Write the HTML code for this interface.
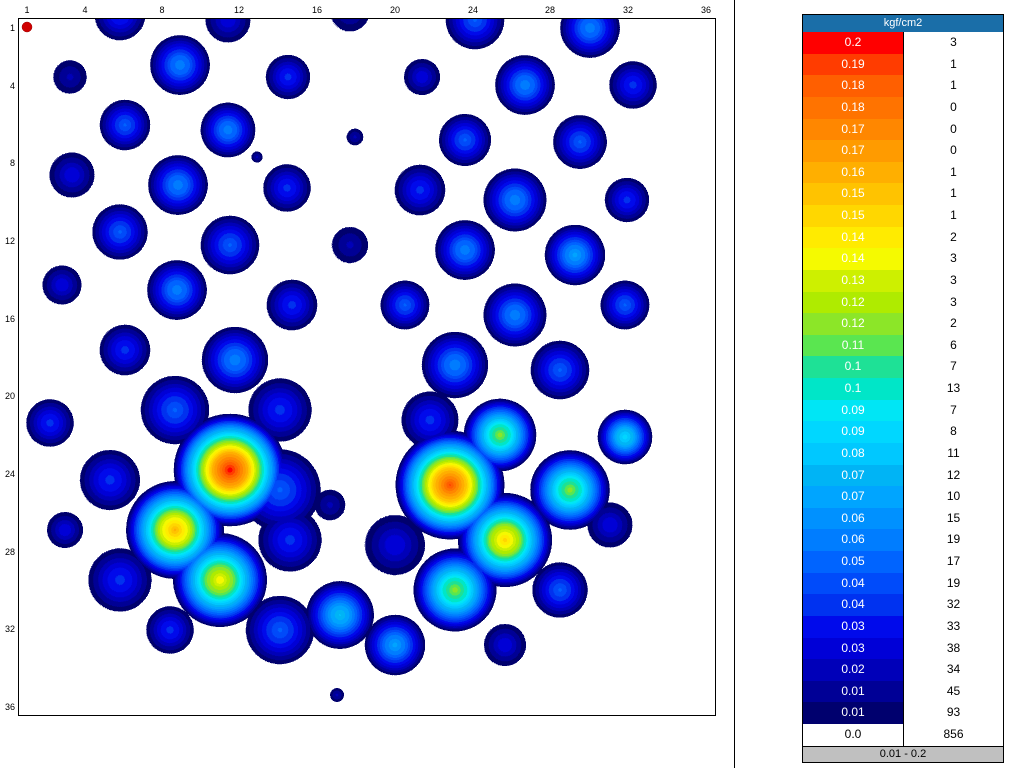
<!DOCTYPE html>
<html><head><meta charset="utf-8"><style>
body{margin:0;width:1024px;height:768px;background:#fff;overflow:hidden;font-family:"Liberation Sans",sans-serif;position:relative}
#leg{position:absolute;left:802px;top:14px;width:202px;border:1px solid #000;box-sizing:border-box}
.r{display:flex;height:21.64px;line-height:21.64px;font-size:12px;text-align:center}
.r div:first-child{width:100px;color:#fff}
.r div:last-child{flex:1;background:#fff;color:#000;border-left:1px solid #000}
</style></head><body>
<div style="position:absolute;left:734px;top:0;width:1px;height:768px;background:#000"></div>
<svg width="1024" height="768" style="position:absolute;left:0;top:0">
<defs>
<filter id="cm" color-interpolation-filters="sRGB" x="0" y="0" width="1" height="1">
<feComponentTransfer>
<feFuncR type="discrete" tableValues="1 0 0 0 0 0 0 0 0 0 0 0 0 0 0 0 0 0.118 0.353 0.549 0.686 0.804 0.961 1 1 1 1 1 1 1 1 1 1"/>
<feFuncG type="discrete" tableValues="1 0 0 0 0 0.039 0.196 0.294 0.392 0.49 0.569 0.647 0.706 0.784 0.843 0.902 0.902 0.882 0.902 0.902 0.922 0.941 0.98 0.922 0.843 0.765 0.686 0.608 0.529 0.451 0.373 0.235 0"/>
<feFuncB type="discrete" tableValues="1 0.431 0.588 0.725 0.843 0.922 0.941 0.98 1 1 1 1 0.961 1 1 0.961 0.784 0.588 0.314 0.157 0 0 0 0 0 0 0 0 0 0 0 0 0"/>
</feComponentTransfer>
</filter>
<radialGradient id="g1"><stop offset="0" stop-color="rgb(13,13,13)"/><stop offset=".27" stop-color="rgb(10,10,10)"/><stop offset=".68" stop-color="rgb(4,4,4)"/><stop offset=".9" stop-color="#000"/></radialGradient>
<radialGradient id="g2"><stop offset="0" stop-color="rgb(26,26,26)"/><stop offset=".27" stop-color="rgb(21,21,21)"/><stop offset=".68" stop-color="rgb(8,8,8)"/><stop offset=".9" stop-color="#000"/></radialGradient>
<radialGradient id="g3"><stop offset="0" stop-color="rgb(38,38,38)"/><stop offset=".27" stop-color="rgb(30,30,30)"/><stop offset=".68" stop-color="rgb(11,11,11)"/><stop offset=".9" stop-color="#000"/></radialGradient>
<radialGradient id="g4"><stop offset="0" stop-color="rgb(51,51,51)"/><stop offset=".27" stop-color="rgb(41,41,41)"/><stop offset=".68" stop-color="rgb(15,15,15)"/><stop offset=".9" stop-color="#000"/></radialGradient>
<radialGradient id="g5"><stop offset="0" stop-color="rgb(64,64,64)"/><stop offset=".27" stop-color="rgb(51,51,51)"/><stop offset=".68" stop-color="rgb(19,19,19)"/><stop offset=".9" stop-color="#000"/></radialGradient>
<radialGradient id="g6"><stop offset="0" stop-color="rgb(77,77,77)"/><stop offset=".27" stop-color="rgb(62,62,62)"/><stop offset=".68" stop-color="rgb(23,23,23)"/><stop offset=".9" stop-color="#000"/></radialGradient>
<radialGradient id="g7"><stop offset="0" stop-color="rgb(89,89,89)"/><stop offset=".27" stop-color="rgb(71,71,71)"/><stop offset=".68" stop-color="rgb(27,27,27)"/><stop offset=".9" stop-color="#000"/></radialGradient>
<radialGradient id="g8"><stop offset="0" stop-color="rgb(102,102,102)"/><stop offset=".27" stop-color="rgb(82,82,82)"/><stop offset=".68" stop-color="rgb(31,31,31)"/><stop offset=".9" stop-color="#000"/></radialGradient>
<radialGradient id="g9"><stop offset="0" stop-color="rgb(115,115,115)"/><stop offset=".27" stop-color="rgb(92,92,92)"/><stop offset=".68" stop-color="rgb(35,35,35)"/><stop offset=".9" stop-color="#000"/></radialGradient>
<radialGradient id="g12"><stop offset="0" stop-color="rgb(153,153,153)"/><stop offset=".27" stop-color="rgb(122,122,122)"/><stop offset=".68" stop-color="rgb(46,46,46)"/><stop offset=".9" stop-color="#000"/></radialGradient>
<radialGradient id="g14"><stop offset="0" stop-color="rgb(179,179,179)"/><stop offset=".27" stop-color="rgb(143,143,143)"/><stop offset=".68" stop-color="rgb(54,54,54)"/><stop offset=".9" stop-color="#000"/></radialGradient>
<radialGradient id="g15"><stop offset="0" stop-color="rgb(191,191,191)"/><stop offset=".27" stop-color="rgb(153,153,153)"/><stop offset=".68" stop-color="rgb(57,57,57)"/><stop offset=".9" stop-color="#000"/></radialGradient>
<radialGradient id="g16"><stop offset="0" stop-color="rgb(204,204,204)"/><stop offset=".27" stop-color="rgb(163,163,163)"/><stop offset=".68" stop-color="rgb(61,61,61)"/><stop offset=".9" stop-color="#000"/></radialGradient>
<radialGradient id="g19"><stop offset="0" stop-color="rgb(242,242,242)"/><stop offset=".27" stop-color="rgb(194,194,194)"/><stop offset=".68" stop-color="rgb(73,73,73)"/><stop offset=".9" stop-color="#000"/></radialGradient>
<radialGradient id="g20"><stop offset="0" stop-color="rgb(255,255,255)"/><stop offset=".27" stop-color="rgb(204,204,204)"/><stop offset=".68" stop-color="rgb(77,77,77)"/><stop offset=".9" stop-color="#000"/></radialGradient>
<clipPath id="pc"><rect x="19" y="19" width="696" height="696"/></clipPath>
</defs>
<g clip-path="url(#pc)">
<g filter="url(#cm)" style="isolation:isolate">
<rect x="19" y="19" width="696" height="696" fill="#000"/>
<g>
<circle cx="120" cy="15" r="32" fill="url(#g4)" style="mix-blend-mode:lighten"/>
<circle cx="228" cy="20" r="30" fill="url(#g3)" style="mix-blend-mode:lighten"/>
<circle cx="350" cy="12" r="28" fill="url(#g2)" style="mix-blend-mode:lighten"/>
<circle cx="475" cy="20" r="36" fill="url(#g5)" style="mix-blend-mode:lighten"/>
<circle cx="590" cy="28" r="36" fill="url(#g6)" style="mix-blend-mode:lighten"/>
<circle cx="70" cy="77" r="24" fill="url(#g2)" style="mix-blend-mode:lighten"/>
<circle cx="180" cy="65" r="36" fill="url(#g6)" style="mix-blend-mode:lighten"/>
<circle cx="288" cy="77" r="28" fill="url(#g4)" style="mix-blend-mode:lighten"/>
<circle cx="422" cy="77" r="24" fill="url(#g3)" style="mix-blend-mode:lighten"/>
<circle cx="525" cy="85" r="36" fill="url(#g6)" style="mix-blend-mode:lighten"/>
<circle cx="633" cy="85" r="30" fill="url(#g4)" style="mix-blend-mode:lighten"/>
<circle cx="125" cy="125" r="31" fill="url(#g5)" style="mix-blend-mode:lighten"/>
<circle cx="228" cy="130" r="33" fill="url(#g6)" style="mix-blend-mode:lighten"/>
<circle cx="355" cy="137" r="12" fill="url(#g2)" style="mix-blend-mode:lighten"/>
<circle cx="465" cy="140" r="32" fill="url(#g5)" style="mix-blend-mode:lighten"/>
<circle cx="580" cy="142" r="33" fill="url(#g5)" style="mix-blend-mode:lighten"/>
<circle cx="72" cy="175" r="30" fill="url(#g3)" style="mix-blend-mode:lighten"/>
<circle cx="178" cy="185" r="36" fill="url(#g6)" style="mix-blend-mode:lighten"/>
<circle cx="287" cy="188" r="30" fill="url(#g4)" style="mix-blend-mode:lighten"/>
<circle cx="420" cy="190" r="32" fill="url(#g4)" style="mix-blend-mode:lighten"/>
<circle cx="515" cy="200" r="38" fill="url(#g6)" style="mix-blend-mode:lighten"/>
<circle cx="627" cy="200" r="28" fill="url(#g4)" style="mix-blend-mode:lighten"/>
<circle cx="120" cy="232" r="34" fill="url(#g5)" style="mix-blend-mode:lighten"/>
<circle cx="230" cy="245" r="36" fill="url(#g5)" style="mix-blend-mode:lighten"/>
<circle cx="350" cy="245" r="26" fill="url(#g2)" style="mix-blend-mode:lighten"/>
<circle cx="465" cy="250" r="36" fill="url(#g6)" style="mix-blend-mode:lighten"/>
<circle cx="575" cy="255" r="36" fill="url(#g7)" style="mix-blend-mode:lighten"/>
<circle cx="62" cy="285" r="26" fill="url(#g3)" style="mix-blend-mode:lighten"/>
<circle cx="177" cy="290" r="36" fill="url(#g6)" style="mix-blend-mode:lighten"/>
<circle cx="292" cy="305" r="32" fill="url(#g4)" style="mix-blend-mode:lighten"/>
<circle cx="405" cy="305" r="30" fill="url(#g5)" style="mix-blend-mode:lighten"/>
<circle cx="515" cy="315" r="38" fill="url(#g6)" style="mix-blend-mode:lighten"/>
<circle cx="625" cy="305" r="30" fill="url(#g5)" style="mix-blend-mode:lighten"/>
<circle cx="125" cy="350" r="32" fill="url(#g4)" style="mix-blend-mode:lighten"/>
<circle cx="235" cy="360" r="40" fill="url(#g6)" style="mix-blend-mode:lighten"/>
<circle cx="455" cy="365" r="40" fill="url(#g6)" style="mix-blend-mode:lighten"/>
<circle cx="560" cy="370" r="36" fill="url(#g5)" style="mix-blend-mode:lighten"/>
<circle cx="50" cy="423" r="30" fill="url(#g4)" style="mix-blend-mode:lighten"/>
<circle cx="175" cy="410" r="42" fill="url(#g5)" style="mix-blend-mode:lighten"/>
<circle cx="280" cy="410" r="40" fill="url(#g4)" style="mix-blend-mode:lighten"/>
<circle cx="430" cy="420" r="36" fill="url(#g4)" style="mix-blend-mode:lighten"/>
<circle cx="500" cy="435" r="42" fill="url(#g12)" style="mix-blend-mode:lighten"/>
<circle cx="625" cy="437" r="32" fill="url(#g9)" style="mix-blend-mode:lighten"/>
<circle cx="230" cy="470" r="64" fill="url(#g20)" style="mix-blend-mode:lighten"/>
<circle cx="450" cy="485" r="62" fill="url(#g19)" style="mix-blend-mode:lighten"/>
<circle cx="110" cy="480" r="38" fill="url(#g4)" style="mix-blend-mode:lighten"/>
<circle cx="175" cy="530" r="56" fill="url(#g16)" style="mix-blend-mode:lighten"/>
<circle cx="280" cy="490" r="50" fill="url(#g5)" style="mix-blend-mode:lighten"/>
<circle cx="570" cy="490" r="46" fill="url(#g12)" style="mix-blend-mode:lighten"/>
<circle cx="65" cy="530" r="24" fill="url(#g3)" style="mix-blend-mode:lighten"/>
<circle cx="505" cy="540" r="54" fill="url(#g15)" style="mix-blend-mode:lighten"/>
<circle cx="220" cy="580" r="54" fill="url(#g14)" style="mix-blend-mode:lighten"/>
<circle cx="120" cy="580" r="40" fill="url(#g4)" style="mix-blend-mode:lighten"/>
<circle cx="290" cy="540" r="40" fill="url(#g4)" style="mix-blend-mode:lighten"/>
<circle cx="330" cy="505" r="22" fill="url(#g2)" style="mix-blend-mode:lighten"/>
<circle cx="395" cy="545" r="40" fill="url(#g3)" style="mix-blend-mode:lighten"/>
<circle cx="610" cy="525" r="30" fill="url(#g3)" style="mix-blend-mode:lighten"/>
<circle cx="455" cy="590" r="48" fill="url(#g12)" style="mix-blend-mode:lighten"/>
<circle cx="560" cy="590" r="34" fill="url(#g5)" style="mix-blend-mode:lighten"/>
<circle cx="170" cy="630" r="30" fill="url(#g4)" style="mix-blend-mode:lighten"/>
<circle cx="280" cy="630" r="42" fill="url(#g5)" style="mix-blend-mode:lighten"/>
<circle cx="340" cy="615" r="40" fill="url(#g8)" style="mix-blend-mode:lighten"/>
<circle cx="395" cy="645" r="36" fill="url(#g7)" style="mix-blend-mode:lighten"/>
<circle cx="505" cy="645" r="28" fill="url(#g3)" style="mix-blend-mode:lighten"/>
<circle cx="337" cy="695" r="10" fill="url(#g2)" style="mix-blend-mode:lighten"/>
<circle cx="257" cy="157" r="8" fill="url(#g2)" style="mix-blend-mode:lighten"/>
</g>
</g>
</g>
<rect x="18.5" y="18.5" width="697" height="697" fill="none" stroke="#000"/>
<circle cx="27" cy="27" r="5" fill="#d00000" stroke="#900" stroke-width="0.5"/>
<g font-family="Liberation Sans, sans-serif" font-size="9" text-anchor="middle">
<text x="27" y="13">1</text><text x="85" y="13">4</text><text x="162" y="13">8</text><text x="239" y="13">12</text><text x="317" y="13">16</text><text x="395" y="13">20</text><text x="473" y="13">24</text><text x="550" y="13">28</text><text x="628" y="13">32</text><text x="706" y="13">36</text>
</g>
<g font-family="Liberation Sans, sans-serif" font-size="9" text-anchor="end">
<text x="15" y="31">1</text><text x="15" y="89">4</text><text x="15" y="166">8</text><text x="15" y="244">12</text><text x="15" y="322">16</text><text x="15" y="399">20</text><text x="15" y="477">24</text><text x="15" y="555">28</text><text x="15" y="632">32</text><text x="15" y="710">36</text>
</g>
</svg>
<div id="leg">
<div style="height:17px;line-height:17px;background:#1a6ea8;color:#fff;font-size:11px;text-align:center">kgf/cm2</div>
<div class="r"><div style="background:rgb(255,0,0)">0.2</div><div>3</div></div>
<div class="r"><div style="background:rgb(255,60,0)">0.19</div><div>1</div></div>
<div class="r"><div style="background:rgb(255,95,0)">0.18</div><div>1</div></div>
<div class="r"><div style="background:rgb(255,115,0)">0.18</div><div>0</div></div>
<div class="r"><div style="background:rgb(255,135,0)">0.17</div><div>0</div></div>
<div class="r"><div style="background:rgb(255,155,0)">0.17</div><div>0</div></div>
<div class="r"><div style="background:rgb(255,175,0)">0.16</div><div>1</div></div>
<div class="r"><div style="background:rgb(255,195,0)">0.15</div><div>1</div></div>
<div class="r"><div style="background:rgb(255,215,0)">0.15</div><div>1</div></div>
<div class="r"><div style="background:rgb(255,235,0)">0.14</div><div>2</div></div>
<div class="r"><div style="background:rgb(245,250,0)">0.14</div><div>3</div></div>
<div class="r"><div style="background:rgb(205,240,0)">0.13</div><div>3</div></div>
<div class="r"><div style="background:rgb(175,235,0)">0.12</div><div>3</div></div>
<div class="r"><div style="background:rgb(140,230,40)">0.12</div><div>2</div></div>
<div class="r"><div style="background:rgb(90,230,80)">0.11</div><div>6</div></div>
<div class="r"><div style="background:rgb(30,225,150)">0.1</div><div>7</div></div>
<div class="r"><div style="background:rgb(0,230,200)">0.1</div><div>13</div></div>
<div class="r"><div style="background:rgb(0,230,245)">0.09</div><div>7</div></div>
<div class="r"><div style="background:rgb(0,215,255)">0.09</div><div>8</div></div>
<div class="r"><div style="background:rgb(0,200,255)">0.08</div><div>11</div></div>
<div class="r"><div style="background:rgb(0,180,245)">0.07</div><div>12</div></div>
<div class="r"><div style="background:rgb(0,165,255)">0.07</div><div>10</div></div>
<div class="r"><div style="background:rgb(0,145,255)">0.06</div><div>15</div></div>
<div class="r"><div style="background:rgb(0,125,255)">0.06</div><div>19</div></div>
<div class="r"><div style="background:rgb(0,100,255)">0.05</div><div>17</div></div>
<div class="r"><div style="background:rgb(0,75,250)">0.04</div><div>19</div></div>
<div class="r"><div style="background:rgb(0,50,240)">0.04</div><div>32</div></div>
<div class="r"><div style="background:rgb(0,10,235)">0.03</div><div>33</div></div>
<div class="r"><div style="background:rgb(0,0,215)">0.03</div><div>38</div></div>
<div class="r"><div style="background:rgb(0,0,185)">0.02</div><div>34</div></div>
<div class="r"><div style="background:rgb(0,0,150)">0.01</div><div>45</div></div>
<div class="r"><div style="background:rgb(0,0,110)">0.01</div><div>93</div></div>
<div class="r"><div style="background:#fff;color:#000">0.0</div><div>856</div></div>
<div style="height:15px;line-height:15px;background:#c0c0c0;font-size:11px;text-align:center;border-top:1px solid #000">0.01 - 0.2</div>
</div>
</body></html>
